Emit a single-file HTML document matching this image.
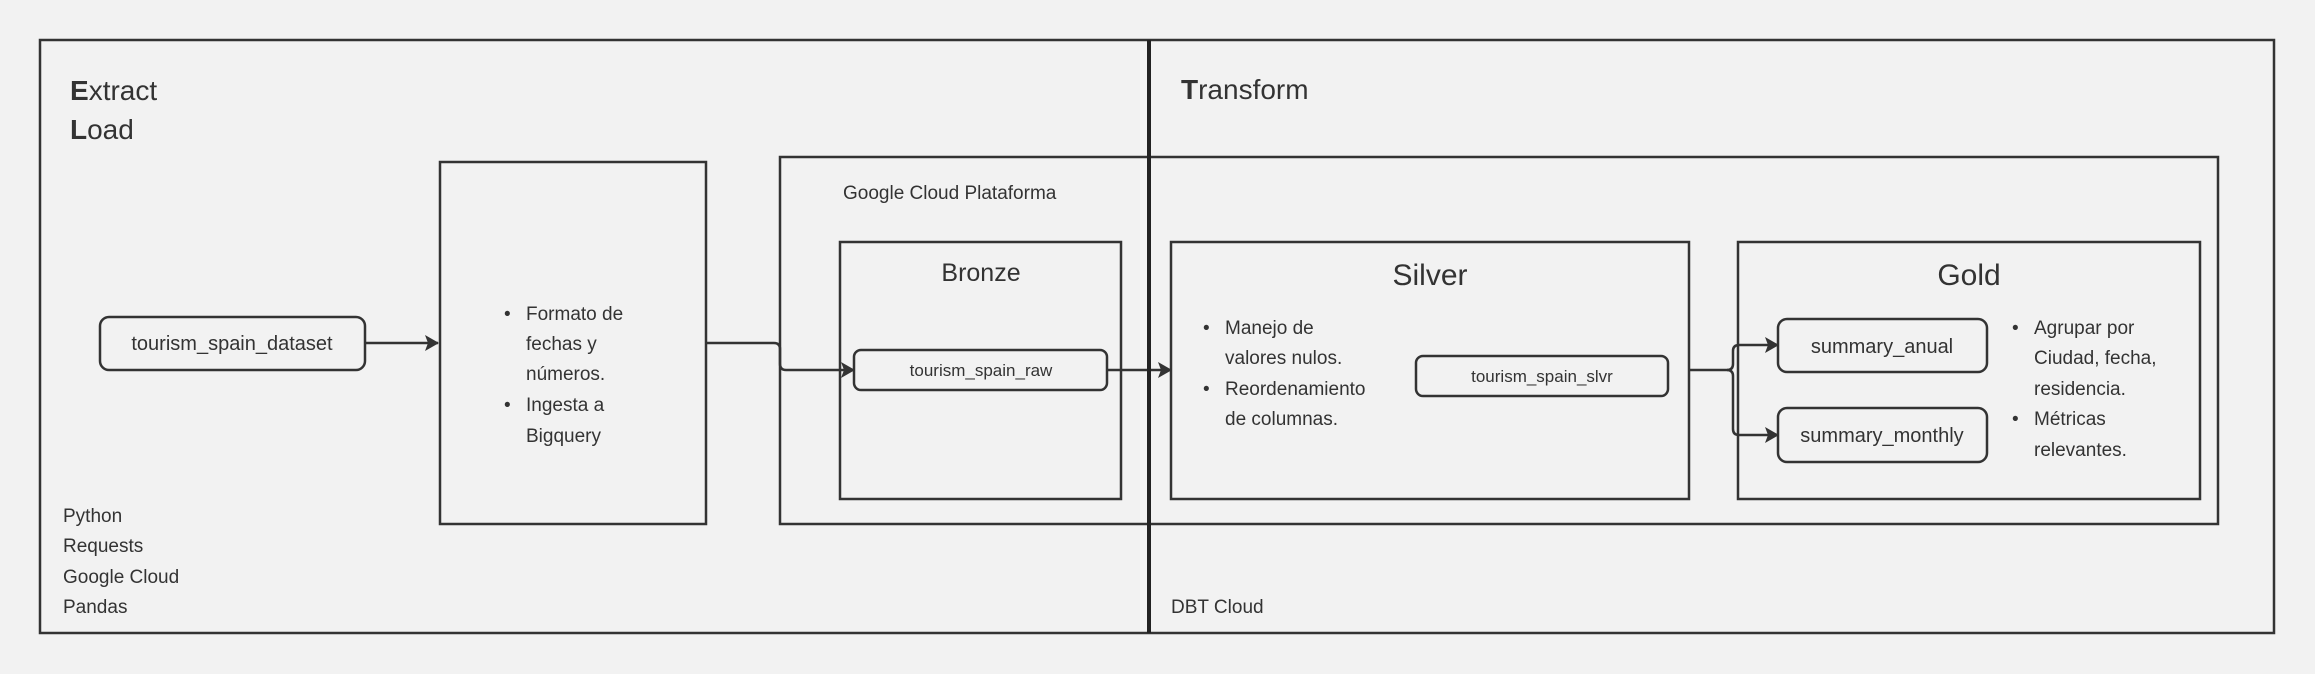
<!DOCTYPE html>
<html><head><meta charset="utf-8"><style>
html,body{margin:0;padding:0;background:#f2f2f2;}
svg{display:block;}
text{font-family:"Liberation Sans","DejaVu Sans",sans-serif;fill:#333;}
</style></head><body>
<svg width="2315" height="674" viewBox="0 0 2315 674" xmlns="http://www.w3.org/2000/svg">
<defs>
<marker id="a" markerWidth="14" markerHeight="16" refX="13" refY="8" orient="auto" markerUnits="userSpaceOnUse">
<path d="M0,0 L14,8 L0,16 L3,8 Z" fill="#333"/>
</marker>
</defs>
<rect x="0" y="0" width="2315" height="674" fill="#f2f2f2"/>
<g fill="none" stroke="#333" stroke-width="2.5">
<rect x="40" y="40" width="2234" height="593"/>
<rect x="440" y="162" width="266" height="362"/>
<rect x="780" y="157" width="1438" height="367"/>
<rect x="840" y="242" width="281" height="257"/>
<rect x="1171" y="242" width="518" height="257"/>
<rect x="1738" y="242" width="462" height="257"/>
<rect x="100" y="317" width="265" height="53" rx="9"/>
<rect x="854" y="350" width="253" height="40" rx="7"/>
<rect x="1416" y="356" width="252" height="40" rx="7"/>
<rect x="1778" y="319" width="209" height="53" rx="9"/>
<rect x="1778" y="408" width="209" height="54" rx="9"/>
<path d="M365,343 H438" marker-end="url(#a)"/>
<path d="M706,343 H774 Q780,343 780,349 V364 Q780,370 786,370 H854" marker-end="url(#a)"/>
<path d="M1107,370 H1171" marker-end="url(#a)"/>
<path d="M1689,370 H1727 Q1733,370 1733,364 V351 Q1733,345 1739,345 H1778" marker-end="url(#a)"/>
<path d="M1727,370 Q1733,370 1733,376 V429 Q1733,435 1739,435 H1778" marker-end="url(#a)"/>
</g>
<line x1="1149" y1="40" x2="1149" y2="633" stroke="#222" stroke-width="4"/>
<text x="70" y="100" font-size="28"><tspan font-weight="bold">E</tspan>xtract</text>
<text x="70" y="139" font-size="28"><tspan font-weight="bold">L</tspan>oad</text>
<text x="1181" y="99" font-size="28"><tspan font-weight="bold">T</tspan>ransform</text>
<text x="232" y="350" font-size="20" text-anchor="middle">tourism_spain_dataset</text>
<g font-size="19">
<text x="504" y="320">•</text><text x="526" y="320">Formato de</text>
<text x="526" y="350">fechas y</text>
<text x="526" y="380">números.</text>
<text x="504" y="411">•</text><text x="526" y="411">Ingesta a</text>
<text x="526" y="442">Bigquery</text>
</g>
<text x="843" y="199" font-size="19">Google Cloud Plataforma</text>
<text x="981" y="281" font-size="25" text-anchor="middle">Bronze</text>
<text x="981" y="376" font-size="17" text-anchor="middle">tourism_spain_raw</text>
<text x="1430" y="285" font-size="30" text-anchor="middle">Silver</text>
<g font-size="19">
<text x="1203" y="334">•</text><text x="1225" y="334">Manejo de</text>
<text x="1225" y="364">valores nulos.</text>
<text x="1203" y="395">•</text><text x="1225" y="395">Reordenamiento</text>
<text x="1225" y="425">de columnas.</text>
</g>
<text x="1542" y="382" font-size="17" text-anchor="middle">tourism_spain_slvr</text>
<text x="1969" y="285" font-size="30" text-anchor="middle">Gold</text>
<text x="1882" y="353" font-size="20" text-anchor="middle">summary_anual</text>
<text x="1882" y="442" font-size="20" text-anchor="middle">summary_monthly</text>
<g font-size="19">
<text x="2012" y="334">•</text><text x="2034" y="334">Agrupar por</text>
<text x="2034" y="364">Ciudad, fecha,</text>
<text x="2034" y="395">residencia.</text>
<text x="2012" y="425">•</text><text x="2034" y="425">Métricas</text>
<text x="2034" y="456">relevantes.</text>
</g>
<g font-size="19">
<text x="63" y="522">Python</text>
<text x="63" y="552">Requests</text>
<text x="63" y="583">Google Cloud</text>
<text x="63" y="613">Pandas</text>
<text x="1171" y="613">DBT Cloud</text>
</g>
</svg>
</body></html>
